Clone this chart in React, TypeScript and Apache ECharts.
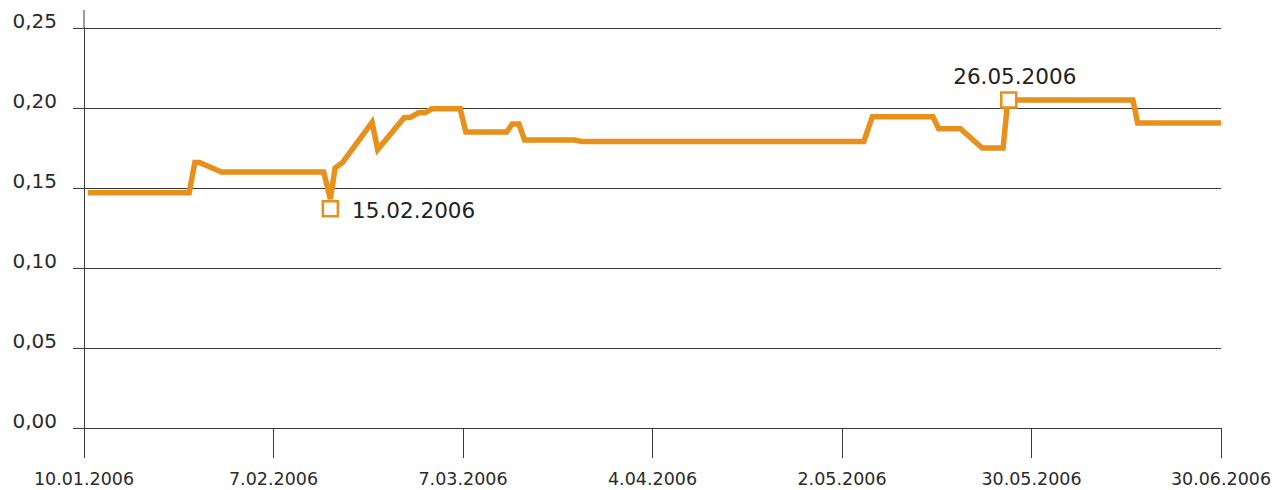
import React, { useEffect, useRef } from "react";
import * as echarts from "echarts";

// x positions in trading-day units (0 = 10.01.2006, 120 = 30.06.2006)
const xPos = [0.4, 11.1, 11.7, 12.2, 14.5, 25.3, 26.0, 26.5, 27.3, 30.4, 31.0, 33.8, 34.4, 35.3, 36.0, 36.7, 39.7, 40.3, 44.6, 45.2, 45.9, 46.5, 51.8, 52.6, 82.3, 83.2, 89.6, 90.2, 92.5, 94.8, 97.0, 97.5, 110.7, 111.2, 120];
const values = [0.147, 0.147, 0.166, 0.166, 0.16, 0.16, 0.143, 0.1625, 0.166, 0.191, 0.174, 0.194, 0.194, 0.197, 0.197, 0.1995, 0.1995, 0.185, 0.185, 0.19, 0.19, 0.18, 0.18, 0.179, 0.179, 0.1945, 0.1945, 0.187, 0.187, 0.175, 0.175, 0.205, 0.205, 0.1906, 0.1906];

const tickLabels = ["10.01.2006", "7.02.2006", "7.03.2006", "4.04.2006", "2.05.2006", "30.05.2006", "30.06.2006"];

const noteX = [26.0, 97.6];
const noteY = [0.137, 0.205];
const noteText = ["15.02.2006", "26.05.2006"];

const ORANGE = "#E8901C";
const GRID = "#3a3a3a";
const FONT = "DejaVu Sans";

export default function App() {
  const ref = useRef<HTMLDivElement>(null);
  useEffect(() => {
    document.body.style.margin = "0";
    if (!ref.current) return;
    const chart = echarts.init(ref.current, null, { renderer: "svg" });
    chart.setOption({
      animation: false,
      backgroundColor: "#fff",
      grid: { left: 84, right: 56, top: 28, bottom: 62 },
      xAxis: {
        type: "value",
        min: 0,
        max: 120,
        interval: 20,
        axisLine: { show: true, lineStyle: { color: GRID, width: 1 } },
        axisTick: { show: true, length: 30, lineStyle: { color: GRID, width: 1 } },
        splitLine: { show: false },
        axisLabel: {
          margin: 42,
          fontFamily: FONT,
          fontSize: 17.5,
          color: "#2a2a2a",
          formatter: (v: number) => tickLabels[Math.round(v / 20)] ?? "",
        },
      },
      yAxis: {
        type: "value",
        min: 0,
        max: 0.25,
        interval: 0.05,
        axisLine: { show: true, lineStyle: { color: GRID, width: 1 } },
        axisTick: { show: true, length: 11, lineStyle: { color: GRID, width: 1 } },
        splitLine: { show: true, lineStyle: { color: GRID, width: 1 } },
        axisLabel: {
          margin: 27,
          fontFamily: FONT,
          fontSize: 20,
          color: "#2a2a2a",
          verticalAlign: "bottom",
          lineHeight: 15,
          formatter: (v: number) => v.toFixed(2).replace(".", ","),
        },
      },
      graphic: [
        {
          type: "line",
          shape: { x1: 84, y1: 10, x2: 84, y2: 28 },
          style: { stroke: GRID, lineWidth: 1 },
        },
      ],
      series: [
        {
          type: "line",
          data: xPos.map((x, i) => [x, values[i]]),
          symbol: "none",
          lineStyle: { color: ORANGE, width: 5.5, join: "miter" },
          z: 3,
        },
        {
          type: "scatter",
          symbol: "rect",
          symbolSize: 15,
          itemStyle: { color: "#fff", borderColor: ORANGE, borderWidth: 2.5, opacity: 1 },
          z: 4,
          data: noteX.map((x, i) => ({
            value: [x, noteY[i]],
            label: {
              show: true,
              formatter: noteText[i],
              position: i === 0 ? "right" : "top",
              distance: i === 0 ? 13 : 4,
              offset: i === 0 ? [0, 2] : [6, 0],
              fontFamily: FONT,
              fontSize: 21.5,
              color: "#222",
            },
          })),
        },
      ],
    });
    return () => chart.dispose();
  }, []);
  return <div ref={ref} style={{ width: 1277, height: 490 }} />;
}
